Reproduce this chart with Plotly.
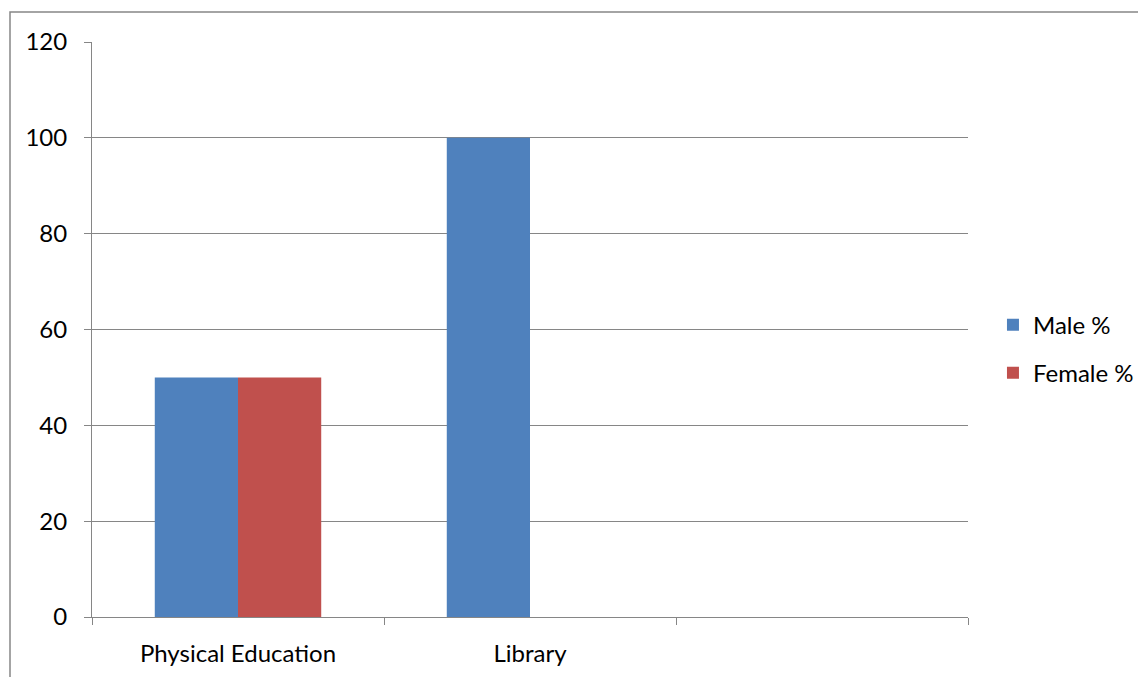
import plotly.graph_objects as go

categories = ["Physical Education", "Library", " "]
male_pct = [50, 100, None]
female_pct = [50, None, None]
y_ticks = [0, 20, 40, 60, 80, 100, 120]

font_family = "Lato, 'Open Sans', sans-serif"
grid = "#868686"

# page body has an 8px margin; compensate so the plot area lands at x 92..968, y 42..617
W, H = 1138, 669
L, T = 84, 34
PW, PH = 876, 575

fig = go.Figure()
fig.add_trace(go.Bar(x=categories, y=male_pct, name="Male %",
                     marker=dict(color="#4F81BD", line=dict(width=0)), legendgroup="m"))
fig.add_trace(go.Bar(x=categories, y=female_pct, name="Female %",
                     marker=dict(color="#C0504D", line=dict(width=0)), legendgroup="f"))

fig.update_layout(
    width=W, height=H,
    margin=dict(l=L, r=W - L - PW, t=T, b=H - T - PH, pad=0, autoexpand=False),
    paper_bgcolor="white", plot_bgcolor="white",
    barmode="group", bargap=0.43, bargroupgap=0,
    font=dict(family=font_family, size=24, color="black"),
    showlegend=True,
    legend=dict(x=1.0285, y=0.466, xanchor="left", yanchor="middle",
                font=dict(size=24), tracegroupgap=14, itemwidth=30,
                bgcolor="rgba(0,0,0,0)"),
    xaxis=dict(type="category", categoryorder="array", categoryarray=categories,
               range=[-0.5, 2.5], tickson="boundaries", ticks="outside",
               ticklen=7, tickcolor=grid, tickwidth=1,
               showline=True, linecolor=grid, linewidth=1,
               showgrid=False, zeroline=False, ticklabelstandoff=15),
    yaxis=dict(range=[0, 120], tickvals=y_ticks, ticks="outside", ticklen=7,
               tickcolor=grid, tickwidth=1, showline=True, linecolor=grid, linewidth=1,
               showgrid=True, gridcolor=grid, gridwidth=1, zeroline=False,
               ticklabelstandoff=12),
    shapes=[dict(type="rect", xref="paper", yref="paper",
                 x0=(10 - 92) / PW, x1=1.4, y0=-0.3, y1=(617 - 12) / PH,
                 line=dict(color=grid, width=1.5), fillcolor="rgba(0,0,0,0)", layer="below")],
)

fig.write_html("out.html")
